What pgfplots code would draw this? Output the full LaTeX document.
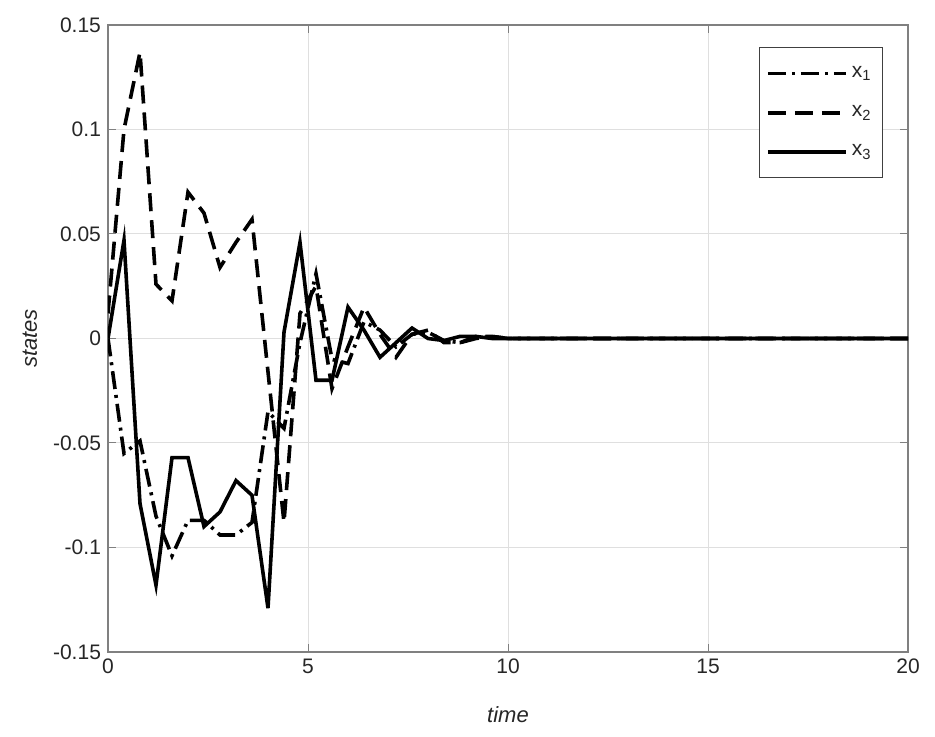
\documentclass[border=0pt]{standalone}
\usepackage{fontspec}
\setmainfont{Liberation Sans}
\usepackage{pgfplots}
\pgfplotsset{compat=1.18}
\definecolor{axgray}{RGB}{128,128,128}
\definecolor{txtgray}{RGB}{38,38,38}
\definecolor{gridgray}{RGB}{223,223,223}
\begin{document}
\begin{tikzpicture}
\useasboundingbox (-54pt,-42.5pt) rectangle (413.5pt,326pt);
\begin{axis}[
  at={(0,0)}, anchor=south west,
  scale only axis, width=400pt, height=313.5pt,
  xmin=0, xmax=20, ymin=-0.15, ymax=0.15,
  xtick={0,5,...,20},
  ytick={-0.15,-0.1,-0.05,0,0.05,0.1,0.15},
  yticklabels={-0.15,-0.1,-0.05,0,0.05,0.1,0.15},
  scaled y ticks=false,
  /pgf/number format/assume math mode=true,
  tick label style={font=\fontsize{10.5}{12}\selectfont, text=txtgray},
  tick align=inside, tick pos=both,
  major tick length=4pt,
  every tick/.style={axgray, line width=0.5pt},
  axis line style={axgray, line width=0.6pt},
  grid=major,
  major grid style={gridgray, line width=0.5pt},
  xlabel={\textit{time}}, ylabel={\textit{states}},
  label style={font=\fontsize{11}{13}\selectfont, text=txtgray},
  xlabel style={at={(axis description cs:0.5,-0.1005)}, anchor=center},
  ylabel style={at={(axis description cs:-0.0975,0.5)}, anchor=center, rotate=0},
  legend style={at={(axis description cs:0.9688,0.9649)}, anchor=north east,
    draw=black!75, line width=0.6pt, font=\fontsize{10.5}{12}\selectfont,
    text=txtgray, row sep=8.5pt, inner xsep=3.5pt, inner ysep=7.5pt},
  legend cell align=left,
  legend image code/.code={\draw[#1, line width=1.8pt] (0pt,0pt) -- (39pt,0pt);},
]
\addplot[black, line width=1.8pt, dash pattern=on 9pt off 3pt on 1.5pt off 3pt] coordinates {
(0,0) (0.4,-0.055) (0.8,-0.049) (1.2,-0.085) (1.6,-0.104) (2.0,-0.087) (2.4,-0.087)
(2.8,-0.094) (3.2,-0.094) (3.6,-0.088) (4.0,-0.035) (4.4,-0.043) (4.8,-0.002)
(5.2,0.031) (5.6,-0.010) (6.0,-0.012) (6.4,0.008) (6.8,0.004) (7.2,-0.004)
(7.6,0.002) (8.0,0.003) (8.4,-0.001) (8.8,-0.002) (9.2,0.000) (9.6,0.001)
(10.0,0) (20,0)};
\addlegendentry{x\textsubscript{1}}
\addplot[black, line width=1.8pt, dash pattern=on 9pt off 4.5pt] coordinates {
(0,0.012) (0.4,0.100) (0.8,0.137) (1.2,0.026) (1.6,0.018) (2.0,0.070) (2.4,0.060)
(2.8,0.034) (3.2,0.046) (3.6,0.057) (4.0,-0.016) (4.4,-0.088) (4.8,0.012)
(5.2,0.025) (5.6,-0.024) (6.0,-0.004) (6.4,0.015) (6.8,0.002) (7.2,-0.009)
(7.6,0.002) (8.0,0.004) (8.4,-0.002) (8.8,-0.002) (9.2,0.001) (9.6,0.001)
(10.0,0) (20,0)};
\addlegendentry{x\textsubscript{2}}
\addplot[black, line width=1.8pt] coordinates {
(0,0) (0.4,0.047) (0.8,-0.079) (1.2,-0.118) (1.6,-0.057) (2.0,-0.057) (2.4,-0.090)
(2.8,-0.083) (3.2,-0.068) (3.6,-0.075) (4.0,-0.129) (4.4,0.003) (4.8,0.046)
(5.2,-0.020) (5.6,-0.020) (6.0,0.015) (6.4,0.004) (6.8,-0.009) (7.2,-0.002)
(7.6,0.005) (8.0,0.000) (8.4,-0.001) (8.8,0.001) (9.2,0.001) (9.6,0.000)
(10.0,0) (20,0)};
\addlegendentry{x\textsubscript{3}}
\end{axis}
\end{tikzpicture}
\end{document}
